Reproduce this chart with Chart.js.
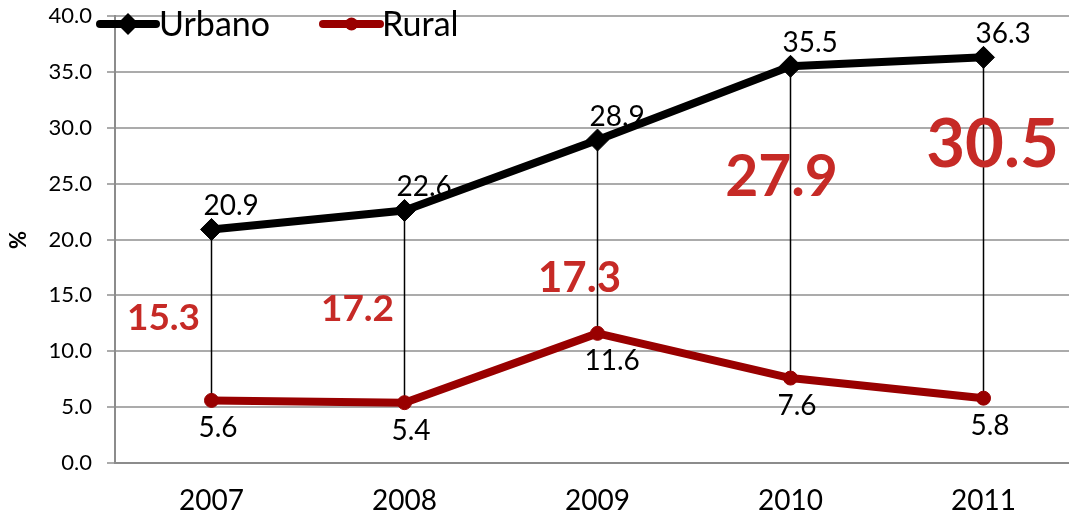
<!DOCTYPE html>
<html>
<head>
<meta charset="utf-8">
<script src="https://cdn.jsdelivr.net/npm/chart.js@4/dist/chart.umd.min.js"></script>
<style>
  html, body { margin: 0; padding: 0; overflow: hidden; background: #fff; }
  #c { display: block; }
</style>
</head>
<body>
<canvas id="c" width="1080" height="521"></canvas>
<script>
// Share of population (%) by area, 2007-2011
const years  = ['2007', '2008', '2009', '2010', '2011'];
const urbano = [20.9, 22.6, 28.9, 35.5, 36.3];
const rural  = [5.6, 5.4, 11.6, 7.6, 5.8];
const seriesNames = ['Urbano', 'Rural'];
const yTicks = [0, 5, 10, 15, 20, 25, 30, 35, 40];

// Gap between the two series for each year
const gaps = urbano.map((u, i) => +(u - rural[i]).toFixed(1));

// Placement and size of the gap labels (pixel offset from the year, y in axis units)
const gapStyle = {
  dx:   [-48, -47, -18, -9, 9],
  yAt:  [13.0, 13.8, 16.5, 25.5, 28.4],
  size: [37, 37, 42, 57, 67]
};

const FONT = 'Lato, "Open Sans", sans-serif';
const BLACK = '#000000';
const DARK_RED = '#990000';
const LABEL_RED = '#C62A26';

const overlay = {
  id: 'overlay',
  beforeDatasetsDraw(chart) {
    // vertical connectors between the two series
    const ctx = chart.ctx;
    const x = chart.scales.x, y = chart.scales.y;
    ctx.save();
    ctx.strokeStyle = '#000';
    ctx.lineWidth = 1.5;
    years.forEach((_, i) => {
      const px = x.getPixelForValue(i);
      ctx.beginPath();
      ctx.moveTo(px, y.getPixelForValue(urbano[i]));
      ctx.lineTo(px, y.getPixelForValue(rural[i]));
      ctx.stroke();
    });
    ctx.restore();
  },
  afterDatasetsDraw(chart) {
    const ctx = chart.ctx;
    const x = chart.scales.x, y = chart.scales.y;
    ctx.save();
    ctx.textBaseline = 'middle';
    ctx.textAlign = 'left';
    ctx.fillStyle = '#000';
    ctx.font = '28px ' + FONT;
    years.forEach((_, i) => {
      const px = x.getPixelForValue(i);
      ctx.fillText(urbano[i].toFixed(1), px - 8, y.getPixelForValue(urbano[i]) - 23);
      ctx.fillText(rural[i].toFixed(1), px - 13, y.getPixelForValue(rural[i]) + 28);
    });

    // gap labels
    ctx.textAlign = 'center';
    ctx.fillStyle = LABEL_RED;
    gaps.forEach((g, i) => {
      ctx.font = 'bold ' + gapStyle.size[i] + 'px ' + FONT;
      ctx.fillText(g.toFixed(1), x.getPixelForValue(i) + gapStyle.dx[i], y.getPixelForValue(gapStyle.yAt[i]));
    });

    // axis title
    ctx.save();
    ctx.translate(19, 240);
    ctx.rotate(-Math.PI / 2);
    ctx.fillStyle = '#000';
    ctx.font = 'bold 22px ' + FONT;
    ctx.fillText('%', 0, 0);
    ctx.restore();

    // legend
    const ly = 24;
    const items = [
      { x0: 100, x1: 156, color: BLACK, marker: 'diamond', text: seriesNames[0], tx: 159 },
      { x0: 323, x1: 380, color: DARK_RED, marker: 'circle', text: seriesNames[1], tx: 382 }
    ];
    items.forEach(it => {
      ctx.strokeStyle = it.color;
      ctx.fillStyle = it.color;
      ctx.lineWidth = 8;
      ctx.lineCap = 'round';
      ctx.beginPath();
      ctx.moveTo(it.x0, ly);
      ctx.lineTo(it.x1, ly);
      ctx.stroke();
      const cx = (it.x0 + it.x1) / 2;
      ctx.beginPath();
      if (it.marker === 'diamond') {
        ctx.moveTo(cx, ly - 11);
        ctx.lineTo(cx + 11, ly);
        ctx.lineTo(cx, ly + 11);
        ctx.lineTo(cx - 11, ly);
        ctx.closePath();
      } else {
        ctx.arc(cx, ly, 6.5, 0, Math.PI * 2);
      }
      ctx.fill();
      ctx.fillStyle = '#000';
      ctx.textAlign = 'left';
      ctx.font = '34px ' + FONT;
      ctx.fillText(it.text, it.tx, ly + 1);
    });
    ctx.restore();
  }
};

new Chart(document.getElementById('c'), {
  type: 'line',
  data: {
    labels: years,
    datasets: [
      {
        label: seriesNames[0],
        data: urbano,
        borderColor: BLACK,
        backgroundColor: BLACK,
        borderWidth: 8,
        borderJoinStyle: 'round',
        pointStyle: 'rectRot',
        pointRadius: 11,
        pointBorderWidth: 1,
        pointBackgroundColor: BLACK,
        pointBorderColor: BLACK,
        tension: 0
      },
      {
        label: seriesNames[1],
        data: rural,
        borderColor: DARK_RED,
        backgroundColor: DARK_RED,
        borderWidth: 8,
        borderJoinStyle: 'round',
        pointStyle: 'circle',
        pointRadius: 7,
        pointBorderWidth: 1,
        pointBackgroundColor: DARK_RED,
        pointBorderColor: DARK_RED,
        tension: 0
      }
    ]
  },
  options: {
    responsive: false,
    animation: false,
    layout: { autoPadding: false, padding: { top: 16, right: 0, bottom: 0, left: 0 } },
    plugins: { legend: { display: false }, tooltip: { enabled: false } },
    scales: {
      x: {
        offset: true,
        grid: { display: false, drawTicks: false },
        border: { display: true, color: '#8c8c8c', width: 2 },
        ticks: { color: '#000', font: { family: FONT, size: 28 }, padding: 21 },
        afterFit(s) { s.height = 58; }
      },
      y: {
        min: 0,
        max: 40,
        afterBuildTicks(s) { s.ticks = yTicks.map(v => ({ value: v })); },
        grid: {
          color: '#ababab',
          lineWidth: 2,
          borderDash: [8, 6],
          drawTicks: true,
          tickLength: 8,
          tickColor: '#ababab',
          tickWidth: 2,
          tickBorderDash: [8, 6]
        },
        border: { display: true, color: '#8c8c8c', width: 2 },
        ticks: {
          color: '#000',
          font: { family: FONT, size: 22 },
          padding: 15,
          callback: v => Number(v).toFixed(1)
        },
        afterFit(s) {
          s.width = 115;
          s.paddingTop = 0;
          s.paddingBottom = 0;
        }
      }
    }
  },
  plugins: [overlay]
});
</script>
</body>
</html>
